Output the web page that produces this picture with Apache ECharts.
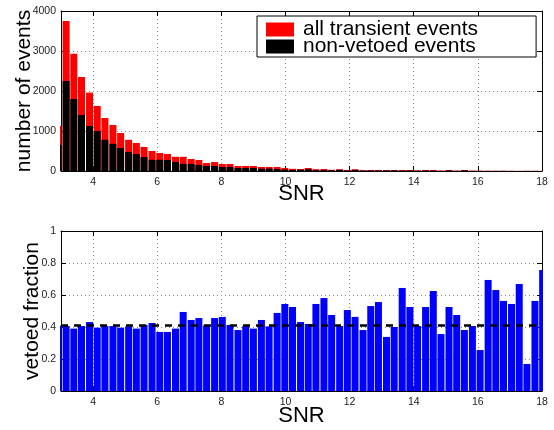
<!DOCTYPE html>
<html><head><meta charset="utf-8">
<script src="https://cdn.jsdelivr.net/npm/echarts@6/dist/echarts.min.js"></script>
<style>html,body{margin:0;padding:0;background:#fff}#c{width:554px;height:430px}</style>
</head><body><div id="c"></div>
<script>
// SNR bin centres (histogram bins)
const snrBins = [2.91, 3.16, 3.40, 3.64, 3.89, 4.13, 4.37, 4.62, 4.86, 5.11, 5.35, 5.59, 5.84, 6.08, 6.32, 6.57, 6.81, 7.06, 7.30, 7.54, 7.79, 8.03, 8.27, 8.52, 8.76, 9.00, 9.25, 9.49, 9.74, 9.98, 10.22, 10.47, 10.71, 10.95, 11.20, 11.44, 11.69, 11.93, 12.17, 12.42, 12.66, 12.90, 13.15, 13.39, 13.64, 13.88, 14.12, 14.37, 14.61, 14.85, 15.10, 15.34, 15.58, 15.83, 16.07, 16.32, 16.56, 16.80, 17.05, 17.29, 17.53, 17.78, 18.02];
// number of events per bin: all transient events
const allEvents = [1125, 3750, 2930, 2350, 1960, 1625, 1325, 1150, 950, 780, 700, 600, 500, 450, 425, 355, 355, 300, 275, 200, 225, 175, 175, 125, 125, 125, 100, 100, 100, 75, 55, 50, 75, 45, 50, 30, 45, 25, 45, 20, 25, 25, 22, 25, 25, 25, 15, 25, 25, 10, 25, 10, 25, 8, 6, 7, 6, 6, 5, 4, 4, 5, 4];
// number of events per bin: non-vetoed events
const nonVetoed = [650, 2250, 1800, 1400, 1125, 1000, 780, 680, 575, 475, 425, 350, 280, 280, 275, 225, 180, 175, 150, 125, 125, 100, 100, 75, 75, 75, 55, 60, 50, 35, 25, 28, 42, 20, 20, 16, 27, 12, 24, 12, 12, 11, 15, 15, 9, 12, 9, 12, 9, 6, 12, 5, 15, 5, 4, 2, 2, 3, 2, 1, 3, 2, 1];
// vetoed fraction per bin
const vetoedFraction = [0.41, 0.406, 0.39, 0.406, 0.431, 0.396, 0.406, 0.406, 0.396, 0.404, 0.39, 0.413, 0.425, 0.369, 0.369, 0.39, 0.494, 0.444, 0.456, 0.41, 0.456, 0.463, 0.413, 0.381, 0.405, 0.39, 0.444, 0.404, 0.488, 0.544, 0.525, 0.431, 0.419, 0.544, 0.581, 0.475, 0.406, 0.506, 0.463, 0.381, 0.531, 0.556, 0.338, 0.40, 0.644, 0.525, 0.406, 0.525, 0.625, 0.356, 0.525, 0.475, 0.381, 0.406, 0.256, 0.694, 0.631, 0.563, 0.544, 0.669, 0.169, 0.563, 0.756];
const meanVetoFraction = 0.41;
const xTicks = [4, 6, 8, 10, 12, 14, 16, 18];
const countTicks = [0, 1000, 2000, 3000, 4000];
const fractionTicks = [0, 0.2, 0.4, 0.6, 0.8, 1];
const countTitle = 'number of events';
const fractionTitle = 'vetoed fraction';

const FONT = '"Liberation Sans", Arial, Helvetica, sans-serif';
const BAR_W = 7;
const chart = echarts.init(document.getElementById('c'), null, {renderer: 'canvas'});

function xAxisDef(gridIndex, position, main, nameGap) {
  return {
    type: 'value', gridIndex, position, min: 3, max: 18,
    axisLine: {show: true, onZero: false, lineStyle: {color: '#000', width: 1}},
    axisTick: {show: true, inside: true, length: 5, customValues: xTicks, lineStyle: {color: '#000'}},
    axisLabel: {show: main, customValues: xTicks, fontSize: 10.5, color: '#222', margin: 6, fontFamily: FONT},
    splitLine: {show: main, lineStyle: {color: '#888', type: [1, 3], width: 1}},
    name: main ? 'SNR' : '', nameLocation: 'middle', nameGap: nameGap || 0, nameMoveOverlap: false,
    nameTextStyle: {fontSize: 22, color: '#000', fontFamily: FONT, verticalAlign: 'top'}
  };
}
function yAxisDef(gridIndex, position, main, ticks) {
  return {
    type: 'value', gridIndex, position, min: ticks[0], max: ticks[ticks.length - 1],
    interval: ticks[1] - ticks[0],
    axisLine: {show: true, onZero: false, lineStyle: {color: '#000', width: 1}},
    axisTick: {show: true, inside: true, length: 5, lineStyle: {color: '#000'}},
    axisLabel: {show: main, fontSize: 10.5, color: '#222', margin: 5, fontFamily: FONT,
                formatter: v => String(v)},
    splitLine: {show: main, lineStyle: {color: '#888', type: [1, 3], width: 1}}
  };
}
function renderBar(params, api) {
  const x = api.value(0), y = api.value(1);
  const top = api.coord([x, y]);
  const base = api.coord([x, 0]);
  return {
    type: 'rect',
    shape: {x: top[0] - BAR_W / 2, y: top[1], width: BAR_W, height: base[1] - top[1]},
    style: {fill: api.visual('color')}
  };
}
function yTitle(text, x, y) {
  return {
    type: 'text', x, y, rotation: Math.PI / 2, silent: true,
    style: {text, fontSize: 21, fontFamily: FONT, fill: '#000', align: 'center', verticalAlign: 'middle'}
  };
}

const option = {
  animation: false,
  backgroundColor: '#fff',
  grid: [
    {left: 61, width: 481, top: 11, height: 160},
    {left: 61, width: 481, top: 231, height: 160}
  ],
  graphic: [yTitle(countTitle, 24, 91), yTitle(fractionTitle, 32, 311)],
  legend: {
    data: ['all transient events', 'non-vetoed events'],
    orient: 'vertical', left: 257, top: 16,
    itemWidth: 28, itemHeight: 14, itemGap: -4,
    padding: [3, 58, 0, 9],
    borderColor: '#000', borderWidth: 1, backgroundColor: '#fff',
    icon: 'rect',
    textStyle: {fontSize: 21, color: '#000', fontFamily: FONT, padding: [0, 0, 0, 4]}
  },
  xAxis: [
    xAxisDef(0, 'bottom', true, 12), xAxisDef(0, 'top', false),
    xAxisDef(1, 'bottom', true, 14), xAxisDef(1, 'top', false)
  ],
  yAxis: [
    yAxisDef(0, 'left', true, countTicks),
    yAxisDef(0, 'right', false, countTicks),
    yAxisDef(1, 'left', true, fractionTicks),
    yAxisDef(1, 'right', false, fractionTicks)
  ],
  series: [
    {
      name: 'all transient events', type: 'custom', xAxisIndex: 0, yAxisIndex: 0,
      data: snrBins.map((x, i) => [x, allEvents[i]]), encode: {x: 0, y: 1},
      renderItem: renderBar, clip: true, lineStyle: {width: 0.01},
      itemStyle: {color: '#ff0000'}, z: 2
    },
    {
      name: 'non-vetoed events', type: 'custom', xAxisIndex: 0, yAxisIndex: 0,
      data: snrBins.map((x, i) => [x, nonVetoed[i]]), encode: {x: 0, y: 1},
      renderItem: renderBar, clip: true, lineStyle: {width: 0.01},
      itemStyle: {color: '#000000'}, z: 3
    },
    {
      name: 'vetoed fraction', type: 'custom', xAxisIndex: 2, yAxisIndex: 2,
      data: snrBins.map((x, i) => [x, vetoedFraction[i]]), encode: {x: 0, y: 1},
      renderItem: renderBar, clip: true, lineStyle: {width: 0.01},
      itemStyle: {color: '#0000ff'}, z: 2,
      markLine: {
        silent: true, symbol: 'none', label: {show: false},
        lineStyle: {color: '#000', type: [7, 6], width: 2.5},
        data: [{yAxis: meanVetoFraction}]
      }
    }
  ]
};
chart.setOption(option);
</script>
</body></html>
